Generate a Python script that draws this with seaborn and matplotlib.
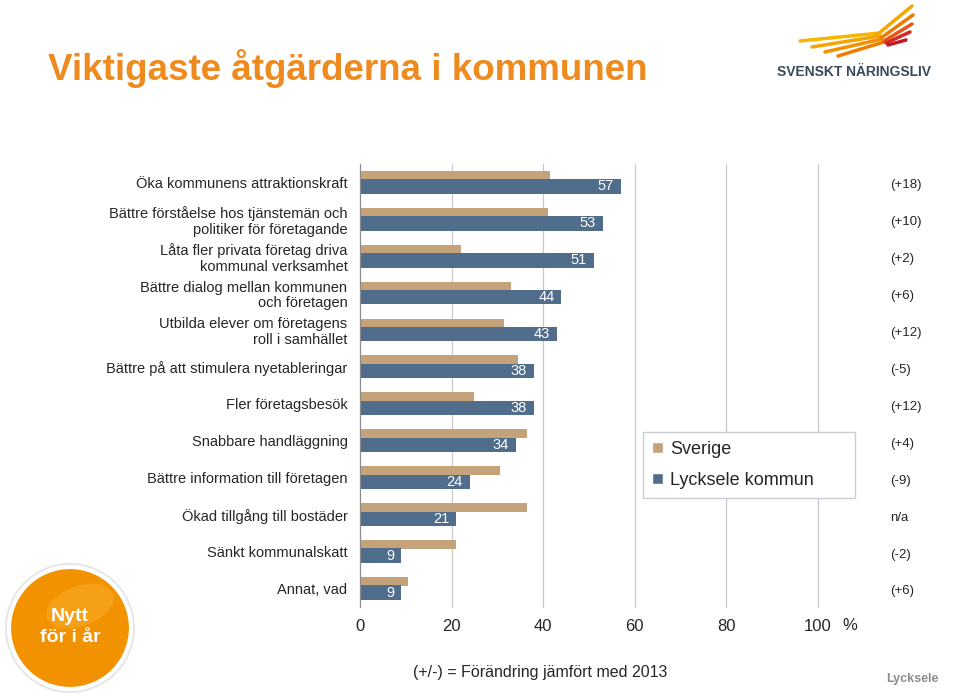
import numpy as np
import pandas as pd
import matplotlib
matplotlib.use("Agg")
import matplotlib.pyplot as plt
import seaborn as sns
from matplotlib.patches import Circle, Ellipse

# --- data ---
categories = [
    "Öka kommunens attraktionskraft",
    "Bättre förståelse hos tjänstemän och\npolitiker för företagande",
    "Låta fler privata företag driva\nkommunal verksamhet",
    "Bättre dialog mellan kommunen\noch företagen",
    "Utbilda elever om företagens\nroll i samhället",
    "Bättre på att stimulera nyetableringar",
    "Fler företagsbesök",
    "Snabbare handläggning",
    "Bättre information till företagen",
    "Ökad tillgång till bostäder",
    "Sänkt kommunalskatt",
    "Annat, vad",
]
lycksele = [57, 53, 51, 44, 43, 38, 38, 34, 24, 21, 9, 9]
sverige = [41.5, 41, 22, 33, 31.5, 34.5, 25, 36.5, 30.5, 36.5, 21, 10.5]
changes = ["(+18)", "(+10)", "(+2)", "(+6)", "(+12)", "(-5)", "(+12)",
           "(+4)", "(-9)", "n/a", "(-2)", "(+6)"]
x_ticks = [0, 20, 40, 60, 80, 100]

TAN = "#C4A27A"
BLUE = "#506E8C"
ORANGE = "#EE8A1E"

sns.set_style("white")
plt.rcParams['font.family'] = ['Liberation Sans', 'DejaVu Sans']

df = pd.DataFrame({
    "kategori": categories * 2,
    "andel": sverige + lycksele,
    "serie": ["Sverige"] * len(categories) + ["Lycksele kommun"] * len(categories),
})

fig = plt.figure(figsize=(9.6, 6.98), dpi=100)
ax = fig.add_axes([0.375, 0.1304, 0.477, 0.635])

sns.barplot(data=df, y="kategori", x="andel", hue="serie", orient="h",
            palette={"Sverige": TAN, "Lycksele kommun": BLUE},
            saturation=1, dodge=True, width=0.62, ax=ax)

# thin Sverige bar on top, thicker kommun bar below
for i, p in enumerate(ax.containers[0]):
    p.set_y(i - 0.31)
    p.set_height(0.23)
    p.set_linewidth(0)
for i, p in enumerate(ax.containers[1]):
    p.set_y(i - 0.085)
    p.set_height(0.395)
    p.set_linewidth(0)

handles, labels = ax.get_legend_handles_labels()
ax.get_legend().remove()

ax.set_xlim(0, 100)
ax.set_ylim(len(categories) - 0.5, -0.5)
ax.set_xticks(x_ticks)
ax.set_xlabel("")
ax.set_ylabel("")
ax.xaxis.grid(True, color="#C8C8C8", linewidth=0.9)
for gl in ax.get_xgridlines():
    gl.set_clip_on(False)
ax.set_axisbelow(True)
for s in ["top", "right", "bottom"]:
    ax.spines[s].set_visible(False)
ax.spines["left"].set_color("#8C8C8C")

ax.set_yticks(np.arange(-0.5, len(categories), 1), minor=True)
ax.tick_params(axis="y", which="minor", length=4, color="#8C8C8C", direction="out")
ax.tick_params(axis="y", which="major", length=0, pad=9, labelsize=10.5)
ax.tick_params(axis="x", length=0, pad=9, labelsize=12)
for t in ax.get_yticklabels():
    t.set_linespacing(1.15)

# value labels inside the kommun bars
for i, v in enumerate(lycksele):
    ax.annotate(f"{v}", xy=(v, i + 0.1125), xytext=(-5, 0),
                textcoords="offset points", ha="right", va="center",
                color="white", fontsize=10.5)

# change since 2013
for i, c in enumerate(changes):
    ax.text(1.157, i + 0.08, c, transform=ax.get_yaxis_transform(),
            ha="left", va="center", fontsize=9.5)

fig.legend(handles, labels, loc="upper left",
           bbox_to_anchor=(643 / 960, 1 - 494 / 698, 212 / 960, 62 / 698),
           mode="expand", borderaxespad=0, frameon=True, fancybox=False,
           framealpha=1, edgecolor="#C8CED3", fontsize=13, handlelength=0.6,
           handleheight=0.6, handletextpad=0.4, labelspacing=0.78,
           borderpad=0.5)

fig.text(850 / 960, 1 - 626 / 698, "%", ha="center", va="center", fontsize=12)
fig.text(48 / 960, 1 - 80 / 698, "Viktigaste åtgärderna i kommunen",
         ha="left", va="baseline", fontsize=26.5, fontweight="bold", color=ORANGE)
fig.text(540 / 960, 1 - 672 / 698, "(+/-) = Förändring jämfört med 2013",
         ha="center", va="center", fontsize=11.5)
fig.text(912 / 960, 1 - 679 / 698, "Lycksele", ha="center", va="center",
         fontsize=9, fontweight="bold", color="#8C8C8C")

# decorations: badge and logo
bg = fig.add_axes([0, 0, 1, 1], zorder=-1)
bg.set_xlim(0, 960)
bg.set_ylim(698, 0)
bg.axis("off")
bg.add_patch(Circle((70, 628), 65, facecolor="#E6E6E6", edgecolor="none"))
bg.add_patch(Circle((70, 628), 61, facecolor="#F39200", edgecolor="white", linewidth=3))
bg.add_patch(Ellipse((80, 606), 70, 40, angle=-20, facecolor="#F9B233",
                     edgecolor="none", alpha=0.45))
bg.text(70, 627, "Nytt\nför i år", ha="center", va="center", color="white",
        fontsize=14, fontweight="bold", linespacing=1.35)

feathers = [
    ((800, 41), (880, 33), "#F7B500"),
    ((812, 47), (880, 36), "#F5A400"),
    ((825, 52), (882, 39), "#F39200"),
    ((838, 56), (884, 42), "#EE7D00"),
    ((878, 34), (912, 6), "#F5A800"),
    ((881, 38), (913, 15), "#EE7A00"),
    ((884, 41), (912, 24), "#E65514"),
    ((886, 43), (910, 32), "#D42A24"),
    ((888, 45), (906, 40), "#C01A2C"),
]
for (x0, y0), (x1, y1), col in feathers:
    bg.plot([x0, x1], [y0, y1], color=col, linewidth=2.5, solid_capstyle="round")
bg.text(854, 72, "SVENSKT NÄRINGSLIV", ha="center", va="center",
        fontsize=10, fontweight="bold", color="#3B4A5A")

fig.savefig("out.png", dpi=100)
